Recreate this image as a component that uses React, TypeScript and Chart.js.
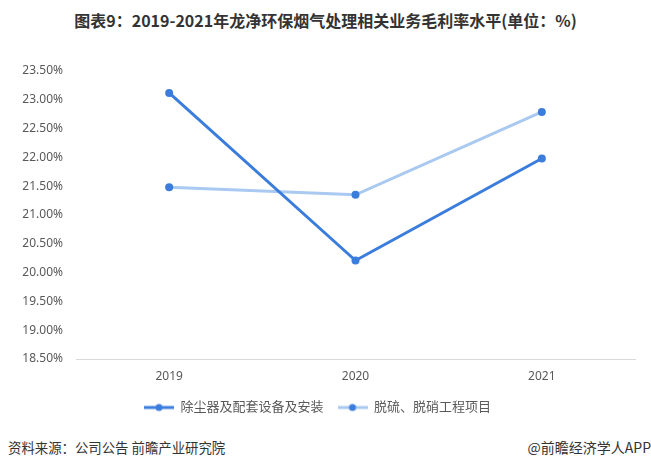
import React, { useEffect, useRef } from "react";
import Chart from "chart.js/auto";

const years = ["2019", "2020", "2021"];
const dustRemoval = [23.12, 20.21, 21.98];
const desulfurization = [21.48, 21.35, 22.79];
const seriesNames = ["除尘器及配套设备及安装", "脱硫、脱硝工程项目"];
const yTicks = [18.5, 19, 19.5, 20, 20.5, 21, 21.5, 22, 22.5, 23, 23.5];

const DARK = "#3b7ddd";
const LIGHT = "#a9c9f1";
const FONT = "'Noto Sans', 'Noto Sans CJK SC', sans-serif";

// legend icon: thick line with a dot in the middle
const makeIcon = (lineColor: string, dotColor: string) => {
  const c = document.createElement("canvas");
  c.width = 30;
  c.height = 10;
  const ctx = c.getContext("2d")!;
  ctx.strokeStyle = lineColor;
  ctx.lineWidth = 3;
  ctx.beginPath();
  ctx.moveTo(0, 5);
  ctx.lineTo(30, 5);
  ctx.stroke();
  ctx.fillStyle = dotColor;
  ctx.beginPath();
  ctx.arc(15, 5, 3.5, 0, Math.PI * 2);
  ctx.fill();
  return c;
};

const LineChart = () => {
  const chartRef = useRef<HTMLCanvasElement>(null);

  useEffect(() => {
    document.body.style.margin = "0";
    const icons = [makeIcon(DARK, DARK), makeIcon(LIGHT, DARK)];
    const ctx = chartRef.current!.getContext("2d")!;
    const chart = new Chart(ctx, {
      type: "line",
      data: {
        labels: years,
        datasets: [
          {
            label: seriesNames[0],
            data: dustRemoval,
            borderColor: DARK,
            backgroundColor: DARK,
            pointBackgroundColor: DARK,
            pointBorderWidth: 0,
            borderWidth: 3,
            pointRadius: 4,
          },
          {
            label: seriesNames[1],
            data: desulfurization,
            borderColor: LIGHT,
            backgroundColor: LIGHT,
            pointBackgroundColor: DARK,
            pointBorderWidth: 0,
            borderWidth: 3,
            pointRadius: 4,
          },
        ],
      },
      options: {
        responsive: true,
        maintainAspectRatio: false,
        animation: false,
        layout: { padding: { top: 71, left: 0, right: 16, bottom: 0 } },
        scales: {
          x: {
            offset: true,
            grid: { display: false, drawTicks: false, offset: true },
            border: { display: true, color: "#d9d9d9", width: 1 },
            ticks: { color: "#595959", font: { family: FONT, size: 12 }, padding: 10 },
            afterFit: (scale: any) => {
              scale.height = 28;
            },
          },
          y: {
            min: 18.5,
            max: 23.5,
            afterBuildTicks: (scale: any) => {
              scale.ticks = yTicks.map((v) => ({ value: v }));
            },
            grid: { display: false, drawTicks: false },
            border: { display: false },
            ticks: {
              color: "#595959",
              font: { family: FONT, size: 12 },
              padding: 13,
              callback: (v: any) => Number(v).toFixed(2) + "%",
            },
            afterFit: (scale: any) => {
              scale.width = 76;
            },
          },
        },
        plugins: {
          title: { display: false },
          tooltip: { enabled: false },
          legend: {
            position: "bottom",
            labels: {
              usePointStyle: true,
              pointStyleWidth: 30,
              color: "#595959",
              font: { family: FONT, size: 13 },
              padding: 14,
              generateLabels: (c: any) => {
                const items = Chart.defaults.plugins.legend.labels.generateLabels(c);
                return items.map((it: any, i: number) => ({ ...it, pointStyle: icons[i] }));
              },
            },
          },
        },
      },
    });

    return () => {
      chart.destroy();
    };
  }, []);

  return (
    <div style={{ position: "absolute", left: 0, top: 0, width: 651, height: 424 }}>
      <canvas ref={chartRef} />
    </div>
  );
};

const App = () => {
  return (
    <div
      style={{
        position: "relative",
        width: 651,
        height: 467,
        background: "#fff",
        fontFamily: FONT,
        overflow: "hidden",
      }}
    >
      <div
        style={{
          position: "absolute",
          top: 8,
          left: 0,
          width: 651,
          textAlign: "center",
          fontSize: 16,
          fontWeight: "bold",
          color: "#333",
          fontFamily: "'Noto Sans CJK SC', sans-serif",
          lineHeight: "24px",
        }}
      >
        图表9：2019-2021年龙净环保烟气处理相关业务毛利率水平(单位：%)
      </div>
      <LineChart />
      <div
        style={{
          position: "absolute",
          top: 437,
          left: 8,
          fontSize: 13.4,
          color: "#333",
          lineHeight: "20px",
          fontFamily: "'Noto Sans CJK SC', sans-serif",
        }}
      >
        资料来源：公司公告 前瞻产业研究院
      </div>
      <div
        style={{
          position: "absolute",
          top: 437,
          right: 0,
          fontSize: 14,
          color: "#333",
          lineHeight: "20px",
          fontFamily: "'Noto Sans CJK SC', sans-serif",
        }}
      >
        @前瞻经济学人APP
      </div>
    </div>
  );
};

export default App;
